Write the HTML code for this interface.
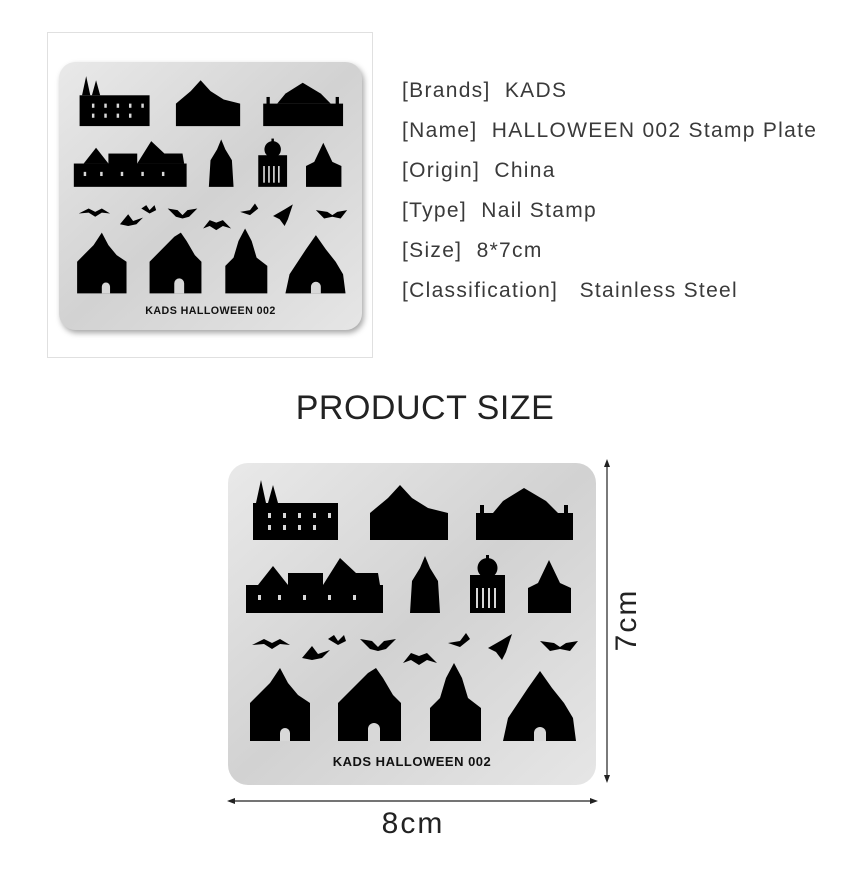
<!DOCTYPE html>
<html><head><meta charset="utf-8">
<style>
body{margin:0;background:#fff;width:850px;height:880px;position:relative;overflow:hidden;font-family:"Liberation Sans",sans-serif}
.abs{position:absolute}
.info{left:402px;font-size:21px;color:#3a3a3a;letter-spacing:1.3px;white-space:nowrap}
</style></head><body>
<svg width="0" height="0" style="position:absolute">
<defs>
<linearGradient id="g" x1="0" y1="0" x2="1" y2="1"><stop offset="0" stop-color="#e9e9e9"/><stop offset="0.5" stop-color="#d2d2d2"/><stop offset="1" stop-color="#e6e6e6"/></linearGradient>
<g id="plate">
<rect x="0" y="0" width="368" height="322" rx="20" fill="url(#g)"/>
<g fill="#000">
<rect x="25" y="40" width="85" height="37"/><polygon points="28,40 33,17 38,40"/><polygon points="40,40 45,22 50,40"/>
<polygon points="142,77 142,50 160,35 172,22 184,35 200,45 220,50 220,77"/>
<rect x="248" y="50" width="97" height="27"/><polygon points="265,50 275,38 296,25 318,38 330,50"/><rect x="252" y="42" width="4" height="10"/><rect x="336" y="42" width="4" height="10"/>
<rect x="18" y="122" width="137" height="28"/><polygon points="30,122 45,103 60,122"/><polygon points="95,122 112,95 128,110 150,110 152,122"/><rect x="60" y="110" width="35" height="14"/>
<polygon points="182,150 184,118 192,105 197,93 202,105 210,118 212,150"/>
<rect x="242" y="112" width="35" height="38"/><circle cx="259.5" cy="105" r="10"/><rect x="258" y="92" width="3" height="6"/>
<polygon points="300,150 300,125 310,120 321,97 332,120 343,125 343,150"/>
<path d="M24,182 l12,-6 l8,4 l8,-4 l10,6 l-10,-1 l-8,5 l-8,-5z"/>
<path d="M74,195 l10,-12 l6,8 l12,-4 l-8,8 l-10,2z"/>
<path d="M100,176 l6,-4 l4,6 l6,-6 l2,6 l-8,4z"/>
<path d="M132,176 l12,2 l6,6 l6,-6 l12,-2 l-10,10 l-8,2 l-8,-2z"/>
<path d="M175,200 l8,-10 l8,3 l8,-3 l10,10 l-10,-3 l-8,5 l-8,-5z"/>
<path d="M220,180 l12,-2 l6,-8 l4,6 l-10,8z"/>
<path d="M260,185 l14,-8 l10,-6 l-6,18 l-4,8 l-6,-8z"/>
<path d="M312,178 l14,2 l6,4 l6,-4 l12,-2 l-8,10 l-10,-2 l-10,2z"/>
<polygon points="22,278 22,240 32,230 42,220 52,205 60,220 70,232 82,240 82,278"/>
<polygon points="110,278 110,240 125,225 140,210 148,205 155,215 165,232 173,240 173,278"/>
<polygon points="202,278 202,245 212,235 218,215 226,200 234,215 240,235 253,245 253,278"/>
<polygon points="275,278 280,255 290,240 300,225 312,208 324,225 336,240 345,255 348,278"/>
</g>
<g fill="#d8d8d8">
<rect x="40" y="50" width="3" height="5"/><rect x="55" y="50" width="3" height="5"/><rect x="70" y="50" width="3" height="5"/><rect x="85" y="50" width="3" height="5"/><rect x="100" y="50" width="3" height="5"/>
<rect x="40" y="62" width="3" height="5"/><rect x="55" y="62" width="3" height="5"/><rect x="70" y="62" width="3" height="5"/><rect x="85" y="62" width="3" height="5"/>
<rect x="30" y="132" width="3" height="5"/><rect x="50" y="132" width="3" height="5"/><rect x="75" y="132" width="3" height="5"/><rect x="100" y="132" width="3" height="5"/><rect x="125" y="132" width="3" height="5"/>
<rect x="248" y="125" width="2" height="20"/><rect x="254" y="125" width="2" height="20"/><rect x="260" y="125" width="2" height="20"/><rect x="266" y="125" width="2" height="20"/>
<path d="M140,278 v-12 a6,6 0 0 1 12,0 v12z"/><path d="M306,278 v-8 a6,6 0 0 1 12,0 v8z"/><path d="M52,278 v-8 a5,5 0 0 1 10,0 v8z"/>
</g>
<text x="184" y="303" text-anchor="middle" font-family="Liberation Sans" font-weight="bold" font-size="13" fill="#111" letter-spacing="0.5">KADS HALLOWEEN 002</text>
</g>
</defs></svg>

<div class="abs" style="left:47px;top:32px;width:324px;height:324px;border:1px solid #e0e0e0"></div>
<svg class="abs" style="left:59px;top:62px;filter:drop-shadow(2px 3px 3px rgba(0,0,0,0.35))" width="303" height="268" viewBox="0 0 368 322" preserveAspectRatio="none"><use href="#plate"/></svg>

<div class="abs info" style="top:79px">[Brands]&nbsp; KADS</div>
<div class="abs info" style="top:119px">[Name]&nbsp; HALLOWEEN 002 Stamp Plate</div>
<div class="abs info" style="top:159px">[Origin]&nbsp; China</div>
<div class="abs info" style="top:199px">[Type]&nbsp; Nail Stamp</div>
<div class="abs info" style="top:239px">[Size]&nbsp; 8*7cm</div>
<div class="abs info" style="top:279px">[Classification]&nbsp;&nbsp; Stainless Steel</div>

<div class="abs" style="left:0;width:850px;top:389px;text-align:center;font-size:34px;color:#222;letter-spacing:0.5px">PRODUCT SIZE</div>

<svg class="abs" style="left:228px;top:463px" width="368" height="322" viewBox="0 0 368 322"><use href="#plate"/></svg>

<svg class="abs" style="left:0;top:0" width="850" height="880">
<g stroke="#222" stroke-width="1.2" fill="#222">
<line x1="607" y1="462" x2="607" y2="780"/><polygon points="607,459 604,467 610,467" stroke="none"/><polygon points="607,783 604,775 610,775" stroke="none"/>
<line x1="230" y1="801" x2="595" y2="801"/><polygon points="227,801 235,798 235,804" stroke="none"/><polygon points="598,801 590,798 590,804" stroke="none"/>
</g>
<text x="640" y="620" font-family="Liberation Sans" font-size="30" fill="#222" text-anchor="middle" letter-spacing="2" transform="rotate(-90 640 620)" dy="-4">7cm</text>
<text x="413" y="833" font-family="Liberation Sans" font-size="30" fill="#222" text-anchor="middle" letter-spacing="2">8cm</text>
</svg>
</body></html>
